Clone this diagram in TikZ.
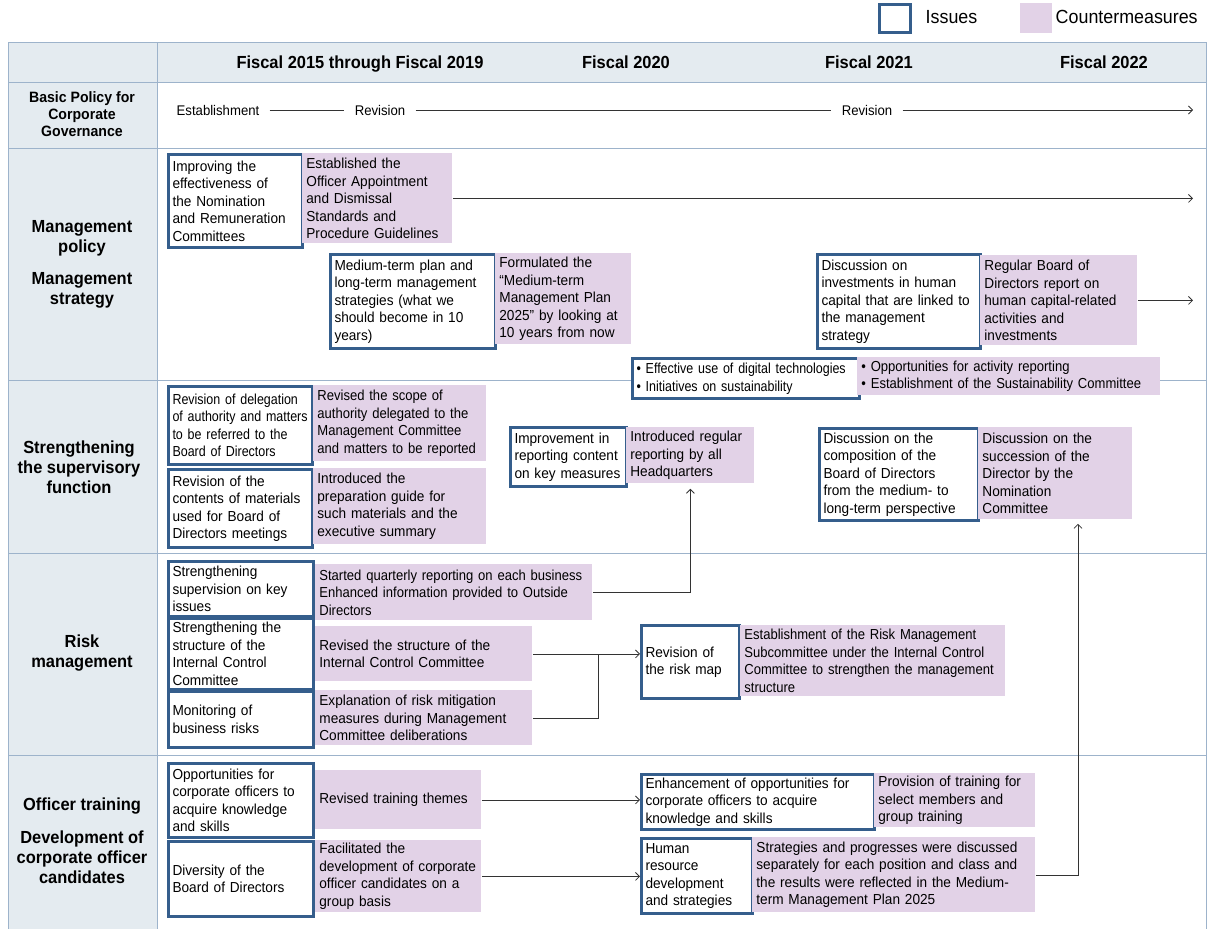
\documentclass[tikz,border=0pt]{standalone}
\usepackage{fontspec}
\setmainfont{Liberation Sans}[FakeStretch=0.94]
\newfontfamily\narrowsans{Liberation Sans}[FakeStretch=0.9]
\newfontfamily\tightsans{Liberation Sans}[FakeStretch=0.86]
\usetikzlibrary{arrows.meta}
\definecolor{issueblue}{HTML}{355E8C}
\definecolor{cmpink}{HTML}{E2D2E7}
\definecolor{gridc}{HTML}{9DB3CB}
\definecolor{headfill}{HTML}{E4EBF0}
\definecolor{ink}{gray}{0.20}
\newcommand\boxfont{\fontsize{14.5}{17.5}\selectfont}
\newcommand\labfont{\bfseries\fontsize{17.5}{20}\selectfont}
\newcommand\headfont{\bfseries\fontsize{17.5}{20}\selectfont}
\newcommand\tlfont{\fontsize{14}{17}\selectfont}
\newcommand\legfont{\fontsize{19}{22}\selectfont}

\begin{document}
\begin{tikzpicture}[x=1pt,y=-1pt,line width=0.8pt,
  issuebox/.style={draw=issueblue,line width=3pt,fill=white,anchor=north west,
    align=left,inner xsep=4pt,inner ysep=2pt,font=\boxfont},
  cmbox/.style={fill=cmpink,anchor=north west,align=left,inner xsep=4pt,
    inner ysep=2pt,font=\boxfont},
  boxsize/.style n args={3}{minimum width=#1pt,minimum height=#2pt,text width=#3pt},
  narrowtxt/.style={font=\narrowsans\boxfont},
  tighttxt/.style={font=\tightsans\boxfont},
  rowlab/.style={align=center,font=\labfont},
  headlab/.style={anchor=base,font=\headfont},
  tlnode/.style={inner xsep=10pt,font=\tlfont},
  gridline/.style={draw=gridc,line width=1pt},
  arr/.style={draw=ink,-{Straight Barb[length=4pt,width=8pt]}}]
  \useasboundingbox (0,0) rectangle (1210,929);
  % legend
  \node[issuebox,anchor=center,minimum width=31pt,minimum height=28pt,inner sep=0pt] (legiss) at (895,18) {};
  \node[anchor=west,font=\legfont] (legisstxt) at (922,17) {Issues};
  \node[fill=cmpink,minimum width=32pt,minimum height=30pt,inner sep=0pt] (legcm) at (1036,18) {};
  \node[anchor=west,font=\legfont] (legcmtxt) at (1052,17) {Countermeasures};
  % table
  \fill[headfill] (8,42) rectangle (1206,82);
  \fill[headfill] (8,82) rectangle (157,929);
  \foreach \y in {42,82,148,380,553,755}
    \draw[gridline] (8,\y) -- (1206,\y);
  \foreach \x in {8,157,1206}
    \draw[gridline] (\x,42) -- (\x,929);
  % header
  \node[headlab] (h1) at (360,68) {Fiscal 2015 through Fiscal 2019};
  \node[headlab] (h2) at (626,68) {Fiscal 2020};
  \node[headlab] (h3) at (869,68) {Fiscal 2021};
  \node[headlab] (h4) at (1104,68) {Fiscal 2022};
  % row labels
  \node[align=center,font=\bfseries\fontsize{15}{17}\selectfont] (lab0) at (82,114) {Basic Policy for\\Corporate\\Governance};
  \node[rowlab] (lab1a) at (82,238) {Management\\policy};
  \node[rowlab] (lab1b) at (82,290) {Management\\strategy};
  \node[rowlab] (lab2) at (79,467) {Strengthening\\the supervisory\\function};
  \node[rowlab] (lab3) at (82,653) {Risk\\management};
  \node[rowlab] (lab4a) at (82,806) {Officer training};
  \node[rowlab] (lab4b) at (82,857) {Development of\\corporate officer\\candidates};
  % basic policy timeline
  \node[tlnode] (est) at (218,110) {Establishment};
  \node[tlnode] (rev1) at (380,110) {Revision};
  \node[tlnode] (rev2) at (867,110) {Revision};
  \coordinate (tlend) at (1193,110);
  \draw[ink] (est) -- (rev1);
  \draw[ink] (rev1) -- (rev2);
  \draw[arr] (rev2) -- (tlend);
  % management policy / strategy
  \node[issuebox,boxsize={134}{93}{126}] (i1) at (167,153) {Improving the\\effectiveness of\\the Nomination\\and Remuneration\\Committees};
  \node[cmbox,boxsize={150}{90}{142}] (c1) at (302,153) {Established the\\Officer Appointment\\and Dismissal\\Standards and\\Procedure Guidelines};
  \node[issuebox,boxsize={165}{94}{157}] (i2) at (329,253) {Medium-term plan and\\long-term management\\strategies (what we\\should become in 10\\years)};
  \node[cmbox,boxsize={136}{91}{128}] (c2) at (495,253) {Formulated the\\“Medium-term\\Management Plan\\2025” by looking at\\10 years from now};
  \node[issuebox,boxsize={163}{94}{155}] (i3) at (816,253) {Discussion on\\investments in human\\capital that are linked to\\the management\\strategy};
  \node[cmbox,boxsize={157}{90}{149}] (c3) at (980,255) {Regular Board of\\Directors report on\\human capital-related\\activities and\\investments};
  \node[issuebox,tighttxt,boxsize={225}{40}{219}] (i4) at (631,357) {• Effective use of digital technologies\\• Initiatives on sustainability};
  \node[cmbox,narrowtxt,boxsize={303}{38}{295}] (c4) at (857,357) {• Opportunities for activity reporting\\• Establishment of the Sustainability Committee};
  % supervisory function
  \node[issuebox,tighttxt,boxsize={144}{78}{136}] (i5) at (167,385) {Revision of delegation\\of authority and matters\\to be referred to the\\Board of Directors};
  \node[cmbox,narrowtxt,boxsize={173}{76}{165}] (c5) at (313,385) {Revised the scope of\\authority delegated to the\\Management Committee\\and matters to be reported};
  \node[issuebox,boxsize={144}{78}{136}] (i6) at (167,468) {Revision of the\\contents of materials\\used for Board of\\Directors meetings};
  \node[cmbox,boxsize={173}{76}{165}] (c6) at (313,468) {Introduced the\\preparation guide for\\such materials and the\\executive summary};
  \node[issuebox,boxsize={116}{59}{108}] (i7) at (509,426) {Improvement in\\reporting content\\on key measures};
  \node[cmbox,boxsize={128}{56}{120}] (c7) at (626,427) {Introduced regular\\reporting by all\\Headquarters};
  \node[issuebox,boxsize={159}{92}{151}] (i8) at (818,427) {Discussion on the\\composition of the\\Board of Directors\\from the medium- to\\long-term perspective};
  \node[cmbox,boxsize={154}{92}{146}] (c8) at (978,427) {Discussion on the\\succession of the\\Director by the\\Nomination\\Committee};
  % risk management
  \node[issuebox,boxsize={145}{55}{137}] (i9) at (167,560) {Strengthening\\supervision on key\\issues};
  \node[cmbox,narrowtxt,boxsize={277}{56}{269}] (c9) at (315,564) {Started quarterly reporting on each business\\Enhanced information provided to Outside\\Directors};
  \node[issuebox,boxsize={145}{71}{137}] (i10) at (167,617) {Strengthening the\\structure of the\\Internal Control\\Committee};
  \node[cmbox,boxsize={217}{55}{209}] (c10) at (315,626) {Revised the structure of the\\Internal Control Committee};
  \node[issuebox,boxsize={145}{56}{137}] (i11) at (167,690) {Monitoring of\\business risks};
  \node[cmbox,boxsize={217}{55}{209}] (c11) at (315,690) {Explanation of risk mitigation\\measures during Management\\Committee deliberations};
  \node[issuebox,boxsize={98}{73}{90}] (i12) at (640,624) {Revision of\\the risk map};
  \node[cmbox,narrowtxt,boxsize={265}{71}{257}] (c12) at (740,625) {Establishment of the Risk Management\\Subcommittee under the Internal Control\\Committee to strengthen the management\\structure};
  % officer training
  \node[issuebox,boxsize={145}{74}{137}] (i13) at (167,762) {Opportunities for\\corporate officers to\\acquire knowledge\\and skills};
  \node[cmbox,boxsize={166}{59}{158}] (c13) at (315,770) {Revised training themes};
  \node[issuebox,boxsize={145}{75}{137}] (i14) at (167,840) {Diversity of the\\Board of Directors};
  \node[cmbox,boxsize={166}{72}{158}] (c14) at (315,840) {Facilitated the\\development of corporate\\officer candidates on a\\group basis};
  \node[issuebox,boxsize={233}{55}{225}] (i15) at (640,773) {Enhancement of opportunities for\\corporate officers to acquire\\knowledge and skills};
  \node[cmbox,boxsize={161}{54}{153}] (c15) at (874,773) {Provision of training for\\select members and\\group training};
  \node[issuebox,boxsize={111}{75}{103}] (i16) at (640,837) {Human\\resource\\development\\and strategies};
  \node[cmbox,boxsize={283}{75}{275}] (c16) at (752,837) {Strategies and progresses were discussed\\separately for each position and class and\\the results were reflected in the Medium-\\term Management Plan 2025};
  % connectors
  \coordinate (rend) at (1193,0);
  \coordinate (rj) at (598,0);
  \coordinate (up8) at (1078,0);
  \draw[arr] (c1.east) -- (c1.east -| rend);
  \draw[arr] (c3.east) -- (c3.east -| rend);
  \draw[arr,shorten >=5pt] (c9.east) -| (c7.south);
  \draw[ink] (c11.east) -| (c10.east -| rj);
  \draw[arr] (c10.east) -- (c10.east -| i12.west);
  \draw[arr] (c13.east) -- (c13.east -| i15.west);
  \draw[arr] (c14.east) -- (c14.east -| i16.west);
  \draw[arr,shorten >=4pt] (c16.east) -| (up8 |- c8.south);
\end{tikzpicture}
\end{document}
